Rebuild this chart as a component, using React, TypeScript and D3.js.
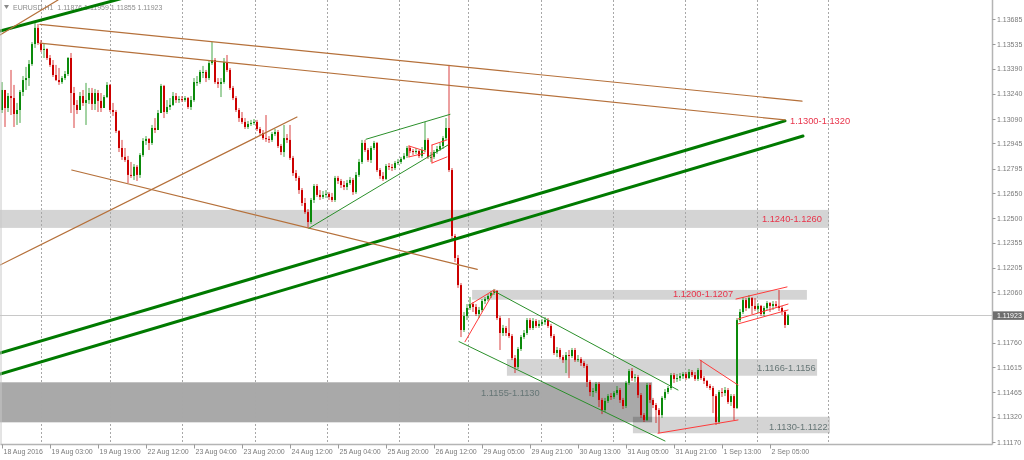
import React from "react";
import * as d3 from "d3";

// ---------- DATA ----------
const headerText = "EURUSD,H1  1.11876 1.11959 1.11855 1.11923";
const firstOpen = 1.13144;

const closes = [
  1.13263, 1.13156, 1.13227, 1.13215, 1.1312, 1.13144, 1.13251, 1.13322, 1.13334, 1.13417,
  1.13536, 1.13632, 1.13542, 1.13501, 1.13507, 1.13453, 1.13412, 1.13352, 1.13322, 1.1331,
  1.13334, 1.13358, 1.13453, 1.13245, 1.13174, 1.13144, 1.13227, 1.13186, 1.13203, 1.13245,
  1.1318, 1.13245, 1.13198, 1.13156, 1.13221, 1.13293, 1.13144, 1.13132, 1.13019, 1.12918,
  1.12865, 1.12847, 1.12758, 1.12752, 1.12806, 1.12758, 1.12876, 1.1296, 1.12972, 1.12948,
  1.13037, 1.13025, 1.13126, 1.13287, 1.13132, 1.13162, 1.13174, 1.13227, 1.13203, 1.13209,
  1.13203, 1.13215, 1.13162, 1.13203, 1.1331, 1.1331, 1.1337, 1.1337, 1.13334, 1.13423,
  1.13441, 1.1331, 1.13299, 1.1331, 1.13429, 1.13382, 1.13275, 1.13215, 1.13144, 1.13096,
  1.13073, 1.13043, 1.13061, 1.13067, 1.13073, 1.13031, 1.13007, 1.12977, 1.12972, 1.12966,
  1.13001, 1.13013, 1.1293, 1.12894, 1.12977, 1.12966, 1.12859, 1.12769, 1.1274, 1.12668,
  1.12591, 1.12537, 1.12478, 1.12609, 1.12692, 1.12639, 1.12627, 1.12639, 1.12645, 1.12627,
  1.12609, 1.1274, 1.12722, 1.12698, 1.12686, 1.1271, 1.12728, 1.12656, 1.12758, 1.12835,
  1.12948, 1.12906, 1.12847, 1.12918, 1.12948, 1.12787, 1.12752, 1.12734, 1.12811, 1.12805,
  1.12799, 1.12829, 1.12835, 1.12853, 1.12871, 1.12918, 1.129, 1.12894, 1.129, 1.12871,
  1.12906, 1.12966, 1.12865, 1.12865, 1.12894, 1.12912, 1.1293, 1.12977, 1.13037, 1.12787,
  1.12395, 1.12264, 1.12103, 1.11836, 1.11919, 1.11967, 1.1199, 1.11973, 1.11931, 1.11955,
  1.12008, 1.1202, 1.12038, 1.12056, 1.12068, 1.11907, 1.11818, 1.11848, 1.11818, 1.118,
  1.11669, 1.11616, 1.11723, 1.11794, 1.11818, 1.11895, 1.11848, 1.11889, 1.1186, 1.11872,
  1.11883, 1.11895, 1.1186, 1.118, 1.11699, 1.11717, 1.11675, 1.11657, 1.11687, 1.11681,
  1.11717, 1.11657, 1.11663, 1.1164, 1.11622, 1.11527, 1.11467, 1.11473, 1.11515, 1.1142,
  1.1136, 1.11414, 1.11443, 1.11438, 1.11461, 1.11479, 1.1142, 1.11384, 1.11521, 1.11592,
  1.1155, 1.11556, 1.11449, 1.1133, 1.11301, 1.11509, 1.1142, 1.1139, 1.1136, 1.1133,
  1.11432, 1.11467, 1.11491, 1.11568, 1.11545, 1.1155, 1.11562, 1.11574, 1.1155, 1.11586,
  1.11568, 1.11545, 1.11598, 1.1155, 1.11533, 1.11503, 1.11491, 1.11443, 1.11289, 1.11467,
  1.11461, 1.11479, 1.11408, 1.11443, 1.11372, 1.11895, 1.11943, 1.12014, 1.11967, 1.12026,
  1.11979, 1.11961, 1.11979, 1.11931, 1.11967, 1.11996, 1.11979, 1.1199, 1.11979, 1.11967,
  1.11943, 1.11866, 1.11923,
];

const highs = [
  1.1331, 1.13263, 1.13245, 1.13382, 1.13293, 1.13186, 1.13263, 1.13346, 1.134, 1.13441,
  1.13548, 1.13661, 1.13655, 1.1356, 1.13536, 1.1351, 1.13471, 1.13441, 1.13412, 1.13394,
  1.13346, 1.13376, 1.13459, 1.13483, 1.13281, 1.13203, 1.13251, 1.13263, 1.13305, 1.13275,
  1.13275, 1.13269, 1.13263, 1.13245, 1.13233, 1.1331, 1.13299, 1.13186, 1.13144, 1.13025,
  1.12966, 1.12918, 1.12871, 1.12835, 1.12823, 1.12817, 1.12888, 1.12977, 1.12989, 1.12977,
  1.13055, 1.13096, 1.13144, 1.13299, 1.13293, 1.13203, 1.13215, 1.13251, 1.13245, 1.13227,
  1.13227, 1.13227, 1.13221, 1.13227, 1.13334, 1.13346, 1.13382, 1.13406, 1.13382, 1.13441,
  1.13548, 1.13453, 1.13334, 1.13334, 1.13453, 1.13471, 1.13394, 1.13287, 1.13227, 1.13156,
  1.13132, 1.13096, 1.13079, 1.13085, 1.1309, 1.13085, 1.13043, 1.13025, 1.13114, 1.12989,
  1.13013, 1.13031, 1.13025, 1.12942, 1.13055, 1.13001, 1.13055, 1.12871, 1.12787, 1.12752,
  1.1268, 1.12621, 1.12555, 1.12621, 1.12704, 1.12704, 1.12668, 1.12662, 1.12668, 1.12656,
  1.12651, 1.12752, 1.12752, 1.12734, 1.12722, 1.12728, 1.12746, 1.1274, 1.12775, 1.12853,
  1.12966, 1.12966, 1.12918, 1.1293, 1.1296, 1.12954, 1.12799, 1.12775, 1.12823, 1.12829,
  1.12823, 1.12841, 1.12853, 1.12865, 1.12888, 1.1293, 1.1293, 1.12912, 1.12918, 1.12906,
  1.12924, 1.13073, 1.12977, 1.12894, 1.12906, 1.1293, 1.12948, 1.12989, 1.13096, 1.13412,
  1.12799, 1.12407, 1.12282, 1.12115, 1.11943, 1.1199, 1.12032, 1.12002, 1.1199, 1.11973,
  1.1202, 1.12032, 1.1205, 1.12068, 1.1208, 1.12074, 1.11919, 1.11866, 1.1186, 1.11907,
  1.11812, 1.11687, 1.11735, 1.11806, 1.11836, 1.11907, 1.11907, 1.11907, 1.11901, 1.11895,
  1.11901, 1.11913, 1.11907, 1.11872, 1.11812, 1.11735, 1.11729, 1.11687, 1.11705, 1.11717,
  1.11729, 1.11729, 1.11687, 1.11675, 1.11652, 1.11634, 1.11539, 1.11491, 1.11527, 1.11527,
  1.11432, 1.11432, 1.11455, 1.11461, 1.11473, 1.11503, 1.11491, 1.11432, 1.11533, 1.11604,
  1.1161, 1.11574, 1.11568, 1.11461, 1.11342, 1.11521, 1.11521, 1.11432, 1.11402, 1.11372,
  1.11443, 1.11485, 1.11503, 1.1158, 1.1158, 1.11574, 1.1158, 1.11586, 1.11586, 1.11604,
  1.11598, 1.11586, 1.1161, 1.11657, 1.11562, 1.11539, 1.11515, 1.11503, 1.11455, 1.11479,
  1.11491, 1.11497, 1.11491, 1.11455, 1.11455, 1.11907, 1.11961, 1.12032, 1.12026, 1.12044,
  1.12032, 1.12026, 1.11996, 1.11985, 1.11979, 1.12008, 1.12002, 1.12008, 1.12008, 1.12074,
  1.11979, 1.11955, 1.11931,
];

const lows = [
  1.13126, 1.13043, 1.13132, 1.13114, 1.13043, 1.13055, 1.13067, 1.13227, 1.13263, 1.13287,
  1.13406, 1.13513, 1.13531, 1.13489, 1.13453, 1.13441, 1.134, 1.1334, 1.13316, 1.13293,
  1.13299, 1.13322, 1.13346, 1.13126, 1.13037, 1.1312, 1.13144, 1.13168, 1.13055, 1.1318,
  1.13144, 1.13144, 1.13132, 1.13132, 1.13156, 1.13215, 1.13132, 1.13108, 1.13007, 1.12894,
  1.12847, 1.12835, 1.1271, 1.1274, 1.12728, 1.12722, 1.1274, 1.12865, 1.12936, 1.12906,
  1.12936, 1.13007, 1.13025, 1.13126, 1.13096, 1.1312, 1.13144, 1.13168, 1.13186, 1.13186,
  1.13192, 1.13192, 1.1315, 1.13144, 1.13192, 1.13287, 1.13299, 1.13334, 1.1331, 1.13322,
  1.13412, 1.13299, 1.13275, 1.13221, 1.13299, 1.1337, 1.13263, 1.13203, 1.13132, 1.13073,
  1.13061, 1.13031, 1.13031, 1.13049, 1.13055, 1.13019, 1.12995, 1.12966, 1.12954, 1.12948,
  1.12954, 1.12989, 1.12918, 1.12876, 1.12865, 1.12948, 1.12847, 1.12752, 1.12722, 1.12645,
  1.12573, 1.12526, 1.12442, 1.12466, 1.12591, 1.12627, 1.12609, 1.12615, 1.12621, 1.12609,
  1.12597, 1.12597, 1.12704, 1.1268, 1.12668, 1.12668, 1.12698, 1.12639, 1.12645, 1.12746,
  1.12823, 1.12894, 1.12835, 1.12829, 1.12906, 1.12775, 1.12734, 1.12722, 1.12728, 1.12787,
  1.12781, 1.12787, 1.12817, 1.12823, 1.12847, 1.12859, 1.12888, 1.12876, 1.12883, 1.12859,
  1.12859, 1.12894, 1.12853, 1.12835, 1.12853, 1.12883, 1.129, 1.12912, 1.12966, 1.12775,
  1.12371, 1.1224, 1.12086, 1.11794, 1.11824, 1.11895, 1.11955, 1.11943, 1.11919, 1.11907,
  1.11943, 1.1199, 1.12008, 1.12026, 1.12044, 1.11895, 1.11717, 1.118, 1.118, 1.11788,
  1.11657, 1.1158, 1.11604, 1.11711, 1.11782, 1.11806, 1.11836, 1.11836, 1.11848, 1.11848,
  1.1186, 1.11866, 1.11848, 1.11788, 1.11687, 1.11675, 1.11663, 1.1164, 1.1158, 1.1155,
  1.11669, 1.11646, 1.11646, 1.11622, 1.1161, 1.11497, 1.11443, 1.11438, 1.11461, 1.11378,
  1.11336, 1.11348, 1.11402, 1.1142, 1.11426, 1.11449, 1.11402, 1.11366, 1.11372, 1.11509,
  1.11533, 1.11527, 1.11432, 1.11313, 1.11289, 1.11295, 1.11402, 1.11372, 1.11283, 1.11223,
  1.11313, 1.1142, 1.11455, 1.11479, 1.11521, 1.11527, 1.11533, 1.11545, 1.11539, 1.11545,
  1.11556, 1.11533, 1.11533, 1.11539, 1.11515, 1.11491, 1.11479, 1.11342, 1.11271, 1.11277,
  1.11438, 1.11443, 1.11396, 1.11384, 1.11301, 1.11366, 1.11883, 1.11931, 1.11949, 1.11961,
  1.11931, 1.11949, 1.11937, 1.11919, 1.11919, 1.11955, 1.11943, 1.11955, 1.11967, 1.11949,
  1.11925, 1.11848, 1.11872,
];

const timeLabels = [
  "18 Aug 2016", "19 Aug 03:00", "19 Aug 19:00", "22 Aug 12:00", "23 Aug 04:00",
  "23 Aug 20:00", "24 Aug 12:00", "25 Aug 04:00", "25 Aug 20:00", "26 Aug 12:00",
  "29 Aug 05:00", "29 Aug 21:00", "30 Aug 13:00", "31 Aug 05:00", "31 Aug 21:00",
  "1 Sep 13:00", "2 Sep 05:00",
];
const timeLabelBars = [0, 16, 32, 48, 64, 80, 96, 112, 128, 144, 160, 176, 192, 208, 224, 240, 256];

const priceTicks = [
  1.13685, 1.13535, 1.1339, 1.1324, 1.1309, 1.12945, 1.12795, 1.1265, 1.125,
  1.12355, 1.12205, 1.1206, 1.1176, 1.11615, 1.11465, 1.1132, 1.1117,
];
const currentPrice = 1.11923;
const gridBars = [13, 36, 60, 84.3, 108.3, 132.3, 155.3, 179.7, 203.7, 227.7, 251.8, 275.3];

// price zones (rectangles)
const zoneFromBar = [-2, 156.7, 168.3, -2, 210.3];
const zoneToBar = [275.7, 268.3, 271.7, 216.7, 276];
const zoneTop = [1.1255, 1.12074, 1.11663, 1.11525, 1.1132];
const zoneBottom = [1.12443, 1.12016, 1.11564, 1.11287, 1.11222];
const zoneKind = ["light", "light", "light", "dark", "light"];

// text annotations
const labelText = ["1.1300-1.1320", "1.1240-1.1260", "1.1200-1.1207", "1.1166-1.1156", "1.1155-1.1130", "1.1130-1.1122"];
const labelBar = [262.7, 253.3, 223.7, 251.7, 159.7, 255.7];
const labelPrice = [1.13079, 1.12496, 1.1205, 1.11611, 1.11461, 1.11263];
const labelKind = ["red", "red", "red", "gray", "gray", "gray"];

// trend lines
const lineFromBar = [-0.67, -0.67, -0.67, 12.67, 12.67, -0.67, -0.67, 23.23, 102.33, 121.33, 164.33, 152.33,
  154.33, 156.33, 135.67, 135.67, 135.67, 143.33, 143.33, 143.33, 232.67, 218.67, 244.67, 245.33, 245.33];
const lineFromPrice = [1.13614, 1.11699, 1.11574, 1.13653, 1.13541, 1.12222, 1.1359, 1.12787, 1.12441, 1.1297, 1.12064, 1.11767,
  1.11766, 1.1199, 1.1293, 1.12865, 1.1293, 1.12936, 1.12829, 1.12936, 1.11657, 1.11222, 1.1202, 1.11901, 1.11872];
const lineToBar = [42.67, 261, 267, 266.67, 261, 98.33, 18.67, 158.43, 148.67, 149.33, 225.33, 221,
  164.33, 164, 141, 141, 135.67, 148.33, 148.33, 143.33, 245.33, 245.33, 261.67, 262, 262];
const lineToPrice = [1.1382, 1.13079, 1.12989, 1.13197, 1.13085, 1.13102, 1.13798, 1.12196, 1.12936, 1.13118, 1.11479, 1.11176,
  1.12074, 1.12074, 1.129, 1.12888, 1.12865, 1.12966, 1.12865, 1.12829, 1.11509, 1.11301, 1.12092, 1.1199, 1.11955];
const lineKind = ["thick", "thick", "thick", "brown", "brown", "brown", "brown", "brown", "green", "green", "green", "green",
  "red", "red", "red", "red", "red", "red", "red", "red", "red", "red", "red", "red", "red"];

// ---------- STYLES ----------
const FONT = "'Liberation Sans', Arial, sans-serif";
const BULL = "#0a8a0a";
const BEAR = "#cc0000";
const zoneFill: Record<string, string> = { light: "#d4d4d4", dark: "#a9a9a9" };
const labelFill: Record<string, string> = { red: "#e8334a", gray: "#667676" };
const lineStyle: Record<string, { stroke: string; width: number }> = {
  thick: { stroke: "#007a00", width: 3 },
  brown: { stroke: "#b5703a", width: 1.2 },
  green: { stroke: "#2a8f2a", width: 1 },
  red: { stroke: "#ff3b3b", width: 1 },
};

const W = 1024;
const H = 460;
const PR = 992.5;
const PB = 444.5;

export default function App() {
  const x = d3.scaleLinear().domain([0, 1]).range([2, 5]);
  const y = d3.scaleLinear().domain([1.1117, 1.13685]).range([442, 19]);
  const opens = closes.map((c, i) => (i === 0 ? firstOpen : closes[i - 1]));

  return (
    <svg width={W} height={H} style={{ position: "absolute", left: 0, top: 0, background: "#fff" }}>
      <defs>
        <clipPath id="plotClip">
          <rect x={0} y={0} width={PR} height={PB} />
        </clipPath>
      </defs>
      <rect x={0} y={0} width={W} height={H} fill="#ffffff" />

      <g clipPath="url(#plotClip)">
        {/* zones */}
        {zoneKind.map((k, i) => (
          <rect
            key={"z" + i}
            x={x(zoneFromBar[i])}
            y={y(zoneTop[i])}
            width={x(zoneToBar[i]) - x(zoneFromBar[i])}
            height={y(zoneBottom[i]) - y(zoneTop[i])}
            fill={zoneFill[k]}
            style={{ mixBlendMode: "multiply" }}
          />
        ))}

        {/* vertical grid */}
        {gridBars.map((b, i) => (
          <line key={"g" + i} x1={Math.round(x(b)) + 0.5} x2={Math.round(x(b)) + 0.5} y1={0} y2={PB}
            stroke="#a8a8a8" strokeWidth={1} strokeDasharray="2,2" />
        ))}

        {/* current price line */}
        <line x1={0} x2={PR} y1={Math.round(y(currentPrice)) + 0.5} y2={Math.round(y(currentPrice)) + 0.5}
          stroke="#c8c8c8" strokeWidth={1} />

        {/* header */}
        <path d="M4,5 L9,5 L6.5,9 Z" fill="#8a8a8a" />
        <text x={13} y={10} fontFamily={FONT} fontSize={7} fill="#8c8c8c" style={{ whiteSpace: "pre" }}>
          {headerText}
        </text>

        {/* candles */}
        {closes.map((c, i) => {
          const o = opens[i];
          const cx = Math.round(x(i));
          const col = c >= o ? BULL : BEAR;
          const yt = y(Math.max(o, c));
          const yb = y(Math.min(o, c));
          const yh = y(Math.max(highs[i], o, c));
          const yl = y(Math.min(lows[i], o, c));
          return (
            <g key={"c" + i}>
              <line x1={cx} x2={cx} y1={yh} y2={yl} stroke={col} strokeOpacity={0.75} strokeWidth={1} />
              <rect x={cx - 1} y={yt} width={2} height={Math.max(1, yb - yt)} fill={col} />
            </g>
          );
        })}

        {/* trend lines */}
        {lineKind.map((k, i) => (
          <line
            key={"l" + i}
            x1={x(lineFromBar[i])}
            y1={y(lineFromPrice[i])}
            x2={x(lineToBar[i])}
            y2={y(lineToPrice[i])}
            stroke={lineStyle[k].stroke}
            strokeWidth={lineStyle[k].width}
            strokeLinecap="round"
          />
        ))}

        {/* zone labels */}
        {labelText.map((t, i) => (
          <text key={"t" + i} x={x(labelBar[i])} y={y(labelPrice[i]) + 3.4} fontFamily={FONT} fontSize={9.3}
            fill={labelFill[labelKind[i]]}>
            {t}
          </text>
        ))}
      </g>

      {/* frame */}
      <line x1={1} x2={1} y1={0} y2={PB} stroke="#c8c8c8" strokeWidth={1} />
      <line x1={PR} x2={PR} y1={0} y2={PB} stroke="#b4b4b4" strokeWidth={1.5} />
      <line x1={0.5} x2={PR} y1={PB} y2={PB} stroke="#b4b4b4" strokeWidth={1.5} />

      {/* price axis */}
      {priceTicks.map((p, i) => (
        <g key={"p" + i}>
          <line x1={PR} x2={PR + 3} y1={Math.round(y(p)) + 0.5} y2={Math.round(y(p)) + 0.5} stroke="#9a9a9a" />
          <text x={997} y={y(p) + 2.5} fontFamily={FONT} fontSize={7} fill="#7a7a7a">
            {p.toFixed(5)}
          </text>
        </g>
      ))}
      <rect x={PR + 0.5} y={y(currentPrice) - 4} width={W - PR} height={8.5} fill="#6e6e6e" />
      <text x={997} y={y(currentPrice) + 2.5} fontFamily={FONT} fontSize={7} fill="#ffffff">
        {currentPrice.toFixed(5)}
      </text>

      {/* time axis */}
      {timeLabels.map((t, i) => (
        <g key={"x" + i}>
          <line x1={Math.round(x(timeLabelBars[i])) + 0.5} x2={Math.round(x(timeLabelBars[i])) + 0.5}
            y1={PB} y2={PB + 4} stroke="#9a9a9a" />
          <text x={x(timeLabelBars[i]) + 1.5} y={454} fontFamily={FONT} fontSize={7} fill="#7a7a7a">
            {t}
          </text>
        </g>
      ))}
    </svg>
  );
}
